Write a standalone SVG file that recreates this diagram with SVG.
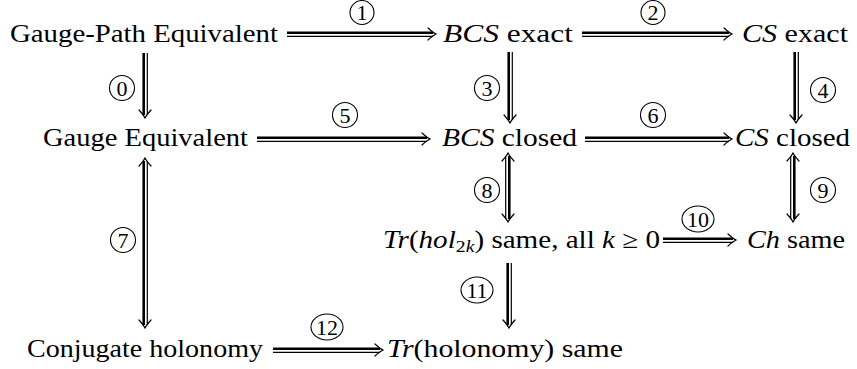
<svg xmlns="http://www.w3.org/2000/svg" width="857" height="369" viewBox="0 0 857 369">
<style>
.t{font-size:25px;font-family:"Liberation Serif","Times New Roman",serif}
.i{font-style:italic}
.sub{font-size:17px}
.n{font-size:22px;text-anchor:middle;font-family:"Liberation Serif","Times New Roman",serif}
.thick{stroke:#000;stroke-width:2.6;fill:none}
.thin{stroke:#000;stroke-width:1.2;fill:none}
.head{stroke:#000;stroke-width:1.2;fill:none;stroke-linecap:round}
.c{stroke:#000;stroke-width:1.1;fill:none}
</style>
<rect width="857" height="369" fill="#fff"/>

<g id="n-gpe"><text class="t" x="10" y="42" textLength="268" lengthAdjust="spacingAndGlyphs">Gauge-Path Equivalent</text></g>
<g id="n-bcsexact"><text class="t" x="443" y="42" textLength="130" lengthAdjust="spacingAndGlyphs"><tspan class="i">BCS</tspan> exact</text></g>
<g id="n-csexact"><text class="t" x="742" y="42" textLength="106" lengthAdjust="spacingAndGlyphs"><tspan class="i">CS</tspan> exact</text></g>
<g id="n-ge"><text class="t" x="43" y="146" textLength="205" lengthAdjust="spacingAndGlyphs">Gauge Equivalent</text></g>
<g id="n-bcsclosed"><text class="t" x="442" y="146" textLength="135" lengthAdjust="spacingAndGlyphs"><tspan class="i">BCS</tspan> closed</text></g>
<g id="n-csclosed"><text class="t" x="735" y="146" textLength="115" lengthAdjust="spacingAndGlyphs"><tspan class="i">CS</tspan> closed</text></g>
<g id="n-trhol"><text class="t" x="383" y="248" textLength="277" lengthAdjust="spacingAndGlyphs"><tspan class="i">Tr</tspan>(<tspan class="i">hol</tspan><tspan class="sub" dy="4">2<tspan class="i">k</tspan></tspan><tspan dy="-4">) same, all </tspan><tspan class="i">k</tspan> ≥ 0</text></g>
<g id="n-ch"><text class="t" x="747" y="248" textLength="98" lengthAdjust="spacingAndGlyphs"><tspan class="i">Ch</tspan> same</text></g>
<g id="n-conj"><text class="t" x="27" y="357" textLength="236" lengthAdjust="spacingAndGlyphs">Conjugate holonomy</text></g>
<g id="n-trholonomy"><text class="t" x="387" y="357" textLength="236" lengthAdjust="spacingAndGlyphs"><tspan class="i">Tr</tspan>(holonomy) same</text></g>

<g id="connectors">
  <line class="thick" x1="287" y1="32.7" x2="433" y2="32.7"/><line class="thin" x1="287" y1="36.3" x2="433" y2="36.3"/>
  <path class="head" d="M428,28 Q433,32.5 436,34 Q433,35.5 428,40"/>
  <line class="thick" x1="582" y1="32.7" x2="729" y2="32.7"/><line class="thin" x1="582" y1="36.3" x2="729" y2="36.3"/>
  <path class="head" d="M724,28 Q729,32.5 732,34 Q729,35.5 724,40"/>
  <line class="thick" x1="257" y1="137.7" x2="427" y2="137.7"/><line class="thin" x1="257" y1="141.3" x2="427" y2="141.3"/>
  <path class="head" d="M422,133 Q427,137.5 430,139 Q427,140.5 422,145"/>
  <line class="thick" x1="585" y1="137.7" x2="729" y2="137.7"/><line class="thin" x1="585" y1="141.3" x2="729" y2="141.3"/>
  <path class="head" d="M724,133 Q729,137.5 732,139 Q729,140.5 724,145"/>
  <line class="thick" x1="663" y1="238.7" x2="733" y2="238.7"/><line class="thin" x1="663" y1="242.3" x2="733" y2="242.3"/>
  <path class="head" d="M728,234 Q733,238.5 736,240 Q733,241.5 728,246"/>
  <line class="thick" x1="273" y1="348.7" x2="380" y2="348.7"/><line class="thin" x1="273" y1="352.3" x2="380" y2="352.3"/>
  <path class="head" d="M375,344 Q380,348.5 383,350 Q380,351.5 375,356"/>

  <line class="thick" x1="143.7" y1="53" x2="143.7" y2="115"/><line class="thin" x1="147.3" y1="53" x2="147.3" y2="115"/>
  <path class="head" d="M139,110 Q143.5,115 145,118 Q146.5,115 151,110"/>
  <line class="thick" x1="508.7" y1="52" x2="508.7" y2="120"/><line class="thin" x1="512.3" y1="52" x2="512.3" y2="120"/>
  <path class="head" d="M504,115 Q508.5,120 510,123 Q511.5,120 516,115"/>
  <line class="thick" x1="794.7" y1="52" x2="794.7" y2="120"/><line class="thin" x1="798.3" y1="52" x2="798.3" y2="120"/>
  <path class="head" d="M790,115 Q794.5,120 796,123 Q797.5,120 802,115"/>
  <line class="thick" x1="143.7" y1="161" x2="143.7" y2="325"/><line class="thin" x1="147.3" y1="161" x2="147.3" y2="325"/>
  <path class="head" d="M139,166 Q143.5,161 145,158 Q146.5,161 151,166"/>
  <path class="head" d="M139,320 Q143.5,325 145,328 Q146.5,325 151,320"/>
  <line class="thin" x1="505.7" y1="156" x2="505.7" y2="219"/><line class="thick" x1="509.3" y1="156" x2="509.3" y2="219"/>
  <path class="head" d="M502,161 Q506.5,156 508,153 Q509.5,156 514,161"/>
  <path class="head" d="M502,214 Q506.5,219 508,222 Q509.5,219 514,214"/>
  <line class="thin" x1="790.7" y1="156" x2="790.7" y2="219"/><line class="thick" x1="794.3" y1="156" x2="794.3" y2="219"/>
  <path class="head" d="M787,161 Q791.5,156 793,153 Q794.5,156 799,161"/>
  <path class="head" d="M787,214 Q791.5,219 793,222 Q794.5,219 799,214"/>
  <line class="thick" x1="507.7" y1="263" x2="507.7" y2="325"/><line class="thin" x1="511.3" y1="263" x2="511.3" y2="325"/>
  <path class="head" d="M503,320 Q507.5,325 509,328 Q510.5,325 515,320"/>

  <g id="l0"><circle class="c" cx="122" cy="88" r="12.5"/><text class="n" x="122" y="95.5">0</text></g>
  <g id="l1"><circle class="c" cx="362" cy="12.5" r="12"/><text class="n" x="362" y="20">1</text></g>
  <g id="l2"><circle class="c" cx="653" cy="12.5" r="12"/><text class="n" x="653" y="20">2</text></g>
  <g id="l3"><circle class="c" cx="487" cy="88" r="12.5"/><text class="n" x="487" y="95.5">3</text></g>
  <g id="l4"><circle class="c" cx="823" cy="90" r="12.5"/><text class="n" x="823" y="97.5">4</text></g>
  <g id="l5"><circle class="c" cx="345" cy="115" r="12.5"/><text class="n" x="345" y="122.5">5</text></g>
  <g id="l6"><circle class="c" cx="653" cy="115" r="12.5"/><text class="n" x="653" y="122.5">6</text></g>
  <g id="l7"><circle class="c" cx="123" cy="240" r="12.5"/><text class="n" x="123" y="247.5">7</text></g>
  <g id="l8"><circle class="c" cx="487" cy="190" r="12.5"/><text class="n" x="487" y="197.5">8</text></g>
  <g id="l9"><circle class="c" cx="823" cy="190" r="12.5"/><text class="n" x="823" y="197.5">9</text></g>
  <g id="l10"><ellipse class="c" cx="698" cy="219" rx="16" ry="13"/><text class="n" x="698" y="226.5">10</text></g>
  <g id="l11"><ellipse class="c" cx="477" cy="290" rx="16" ry="13"/><text class="n" x="477" y="297.5">11</text></g>
  <g id="l12"><ellipse class="c" cx="327" cy="327" rx="16" ry="13"/><text class="n" x="327" y="334.5">12</text></g>
</g>
</svg>
